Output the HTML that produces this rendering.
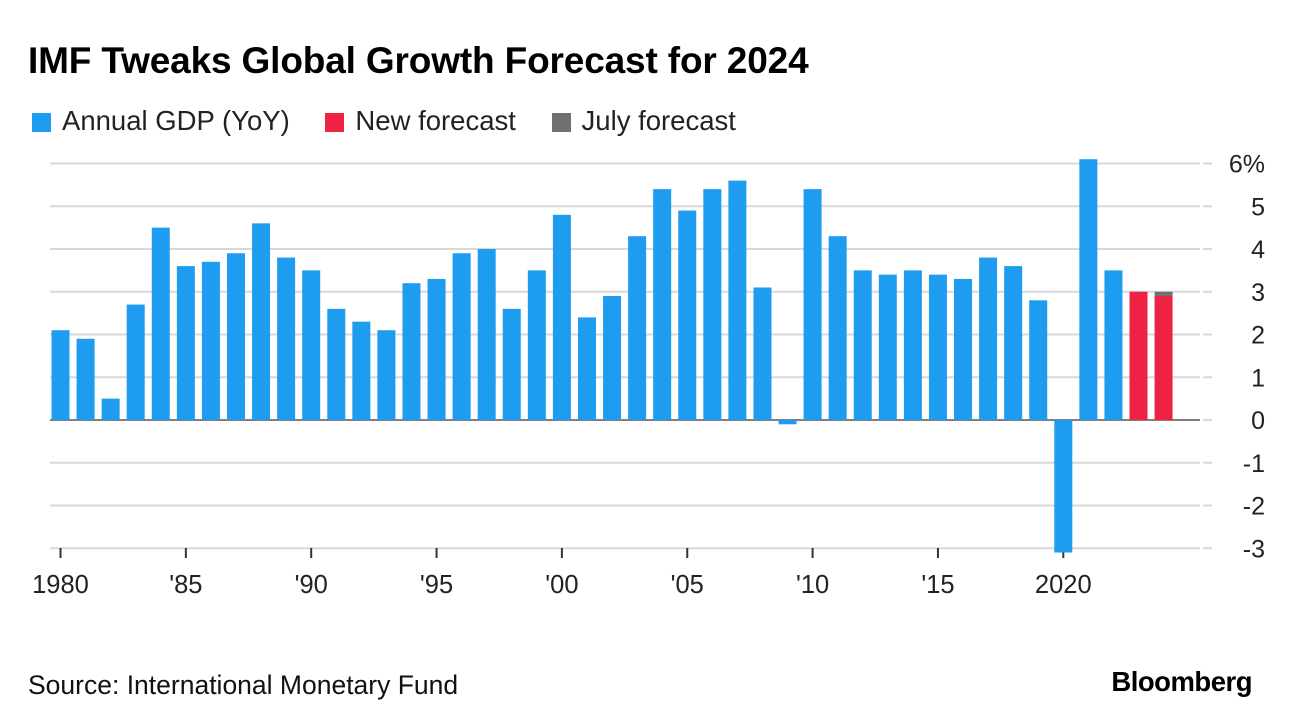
<!DOCTYPE html>
<html><head><meta charset="utf-8"><style>
body{margin:0;width:1292px;height:726px;background:#fff;font-family:"Liberation Sans",sans-serif;overflow:hidden;position:relative}
.t{position:absolute;white-space:nowrap}
</style></head><body>
<div class="t" style="left:28px;top:40px;font-size:37px;font-weight:bold;color:#000;letter-spacing:-0.15px">IMF Tweaks Global Growth Forecast for 2024</div>
<div class="t" style="left:32px;top:105px;font-size:27.5px;color:#222">
<span><span style="display:inline-block;width:19px;height:19px;background:#1e9cf0;vertical-align:-2px;margin-right:11px"></span>Annual GDP (YoY)</span>
<span style="margin-left:28px"><span style="display:inline-block;width:19px;height:19px;background:#ee2242;vertical-align:-2px;margin-right:11px"></span>New forecast</span>
<span style="margin-left:28px"><span style="display:inline-block;width:19px;height:19px;background:#707070;vertical-align:-2px;margin-right:11px"></span>July forecast</span>
</div>
<svg id="c" width="1292" height="726" style="position:absolute;left:0;top:0"></svg>
<div class="t" style="left:28px;top:670px;font-size:26.5px;color:#111">Source: International Monetary Fund</div>
<div class="t" style="right:40px;top:666px;font-size:27.5px;font-weight:bold;color:#000;letter-spacing:-0.5px">Bloomberg</div>
<script>
const years=[1980,1981,1982,1983,1984,1985,1986,1987,1988,1989,1990,1991,1992,1993,1994,1995,1996,1997,1998,1999,2000,2001,2002,2003,2004,2005,2006,2007,2008,2009,2010,2011,2012,2013,2014,2015,2016,2017,2018,2019,2020,2021,2022];
const gdp=[2.1,1.9,0.5,2.7,4.5,3.6,3.7,3.9,4.6,3.8,3.5,2.6,2.3,2.1,3.2,3.3,3.9,4.0,2.6,3.5,4.8,2.4,2.9,4.3,5.4,4.9,5.4,5.6,3.1,-0.1,5.4,4.3,3.5,3.4,3.5,3.4,3.3,3.8,3.6,2.8,-3.1,6.1,3.5];
const fYears=[2023,2024];
const newF=[3.0,2.9];
const julyF=[3.0,3.0];
const yTicks=[6,5,4,3,2,1,0,-1,-2,-3];
const yLabels=["6%","5","4","3","2","1","0","-1","-2","-3"];
const xTicks=[1980,1985,1990,1995,2000,2005,2010,2015,2020];
const xLabels=["1980","'85","'90","'95","'00","'05","'10","'15","2020"];
const svg=document.getElementById('c');const NS='http://www.w3.org/2000/svg';
const y=v=>420-v*42.75;
const x=yr=>60.5+(yr-1980)*25.07;
const bw=18;
function mk(t,a){const e=document.createElementNS(NS,t);for(const k in a)e.setAttribute(k,a[k]);svg.appendChild(e);return e;}
yTicks.forEach((v,i)=>{
 const g=mk('line',{x1:50,x2:1200,y1:y(v),y2:y(v),stroke:v===0?'#555':'#d8d8d8','stroke-width':v===0?1.5:2});
 
 
 const d=mk('line',{x1:1203,x2:1212,y1:y(v),y2:y(v),stroke:'#d8d8d8','stroke-width':2});
 
 
 const t=mk('text',{x:1265,y:y(v)+9,'text-anchor':'end','font-size':25,fill:'#222','font-family':'Liberation Sans'});
 t.textContent=yLabels[i];
 
 
});
xTicks.forEach((yr,i)=>{
 const l=mk('line',{x1:x(yr),x2:x(yr),y1:548,y2:558,stroke:'#333','stroke-width':2});
 
 
 const t=mk('text',{x:x(yr),y:593,'text-anchor':'middle','font-size':25.5,fill:'#222','font-family':'Liberation Sans'});
 t.textContent=xLabels[i];
 
 
});
years.forEach((yr,i)=>{
 const v=gdp[i];
 const r=mk('rect',{x:x(yr)-bw/2,y:Math.min(y(v),y(0)),width:bw,height:Math.abs(y(v)-y(0)),fill:'#1e9cf0'});
 
 
});
fYears.forEach((yr,i)=>{
 if(julyF[i]>newF[i]){
  const g=mk('rect',{x:x(yr)-bw/2,y:y(julyF[i]),width:bw,height:y(newF[i])-y(julyF[i]),fill:'#707070'});
  
  
 }
 const r=mk('rect',{x:x(yr)-bw/2,y:y(newF[i]),width:bw,height:y(0)-y(newF[i]),fill:'#ee2242'});
 
 
});
</script>
</body></html>
